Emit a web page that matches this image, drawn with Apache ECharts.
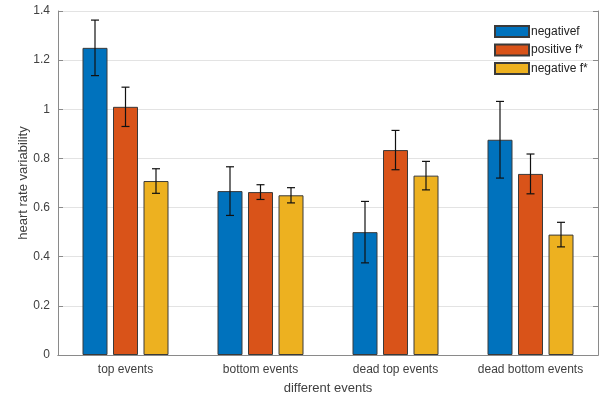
<!DOCTYPE html>
<html>
<head>
<meta charset="utf-8">
<script src="https://cdn.jsdelivr.net/npm/echarts@6/dist/echarts.min.js"></script>
<style>
  html, body { margin: 0; padding: 0; background: #fff; }
  #chart { width: 604px; height: 400px; }
</style>
</head>
<body>
<div id="chart"></div>
<script>
// Event categories along the x axis
const categories = ['top events', 'bottom events', 'dead top events', 'dead bottom events'];

// Series names (legend entries)
const seriesNames = ['negativef', 'positive f*', 'negative f*'];

// Mean heart rate variability per category
const negativeF = [1.25, 0.667, 0.50, 0.876];
const positiveFStar = [1.01, 0.663, 0.834, 0.737];
const negativeFStar = [0.708, 0.650, 0.730, 0.490];

// Error bar half-lengths per category
const negativeFErr = [0.113, 0.099, 0.125, 0.156];
const positiveFStarErr = [0.080, 0.030, 0.080, 0.081];
const negativeFStarErr = [0.050, 0.031, 0.058, 0.050];

const means = [negativeF, positiveFStar, negativeFStar];
const errs = [negativeFErr, positiveFStarErr, negativeFStarErr];
const colors = ['#0072BD', '#D95319', '#EDB120'];

const BAR_W = 25;
const BAR_GAP = 0.22;
const FONT = '"Liberation Sans", Arial, sans-serif';
const AXIS_COLOR = '#8a8a8a';
const TEXT_COLOR = '#404040';

const chart = echarts.init(document.getElementById('chart'), null, { renderer: 'canvas' });

const barSeries = means.map((vals, i) => ({
  name: seriesNames[i],
  type: 'bar',
  xAxisIndex: 0,
  yAxisIndex: 0,
  data: vals,
  barWidth: BAR_W,
  barGap: (BAR_GAP * 100) + '%',
  itemStyle: { color: colors[i], borderColor: '#3a3a3a', borderWidth: 1 },
  emphasis: { disabled: true },
  z: 2
}));

const errSeries = means.map((vals, i) => ({
  name: seriesNames[i] + ' error',
  type: 'custom',
  xAxisIndex: 0,
  yAxisIndex: 0,
  data: vals.map((v, k) => [k, v - errs[i][k], v + errs[i][k]]),
  encode: { x: 0, y: [1, 2] },
  z: 5,
  silent: true,
  renderItem: function (params, api) {
    const k = api.value(0);
    const lo = api.coord([k, api.value(1)]);
    const hi = api.coord([k, api.value(2)]);
    const offset = (i - 1) * BAR_W * (1 + BAR_GAP);
    const x = lo[0] + offset;
    const cap = 4;
    const style = { stroke: '#111', lineWidth: 1.2 };
    return {
      type: 'group',
      children: [
        { type: 'line', shape: { x1: x, y1: lo[1], x2: x, y2: hi[1] }, style: style },
        { type: 'line', shape: { x1: x - cap, y1: lo[1], x2: x + cap, y2: lo[1] }, style: style },
        { type: 'line', shape: { x1: x - cap, y1: hi[1], x2: x + cap, y2: hi[1] }, style: style }
      ]
    };
  }
}));

const option = {
  animation: false,
  backgroundColor: '#fff',
  textStyle: { fontFamily: FONT },
  grid: { left: 58, right: 6, top: 11, bottom: 45, show: false },
  legend: {
    data: seriesNames.map(n => ({ name: n, icon: 'rect' })),
    orient: 'vertical',
    left: 494,
    top: 25,
    itemWidth: 34,
    itemHeight: 11,
    itemGap: 5.5,
    padding: 0,
    selectedMode: false,
    textStyle: { fontFamily: FONT, fontSize: 12, color: '#222', padding: [0, 0, 0, -3] }
  },
  xAxis: [
    {
      type: 'category',
      data: categories,
      position: 'bottom',
      axisLine: { lineStyle: { color: AXIS_COLOR } },
      axisTick: { inside: true, length: 5, alignWithLabel: true, lineStyle: { color: AXIS_COLOR } },
      axisLabel: { fontFamily: FONT, fontSize: 12, color: TEXT_COLOR, margin: 9, interval: 0 },
      name: 'different events',
      nameLocation: 'middle',
      nameGap: 27,
      nameMoveOverlap: false,
      nameTextStyle: { fontFamily: FONT, fontSize: 13, color: TEXT_COLOR },
      splitLine: { show: false }
    },
    {
      type: 'category',
      data: categories,
      position: 'top',
      axisLine: { lineStyle: { color: AXIS_COLOR } },
      axisTick: { inside: true, length: 5, alignWithLabel: true, lineStyle: { color: AXIS_COLOR } },
      axisLabel: { show: false }
    }
  ],
  yAxis: [
    {
      type: 'value',
      min: 0,
      max: 1.4,
      interval: 0.2,
      position: 'left',
      axisLine: { show: true, lineStyle: { color: AXIS_COLOR } },
      axisTick: { show: true, inside: true, length: 5, lineStyle: { color: AXIS_COLOR } },
      axisLabel: { fontFamily: FONT, fontSize: 12, color: TEXT_COLOR, margin: 8 },
      splitLine: { show: true, lineStyle: { color: '#e3e3e3', width: 1 } },
      name: 'heart rate variability',
      nameLocation: 'middle',
      nameRotate: 90,
      nameGap: 28,
      nameMoveOverlap: false,
      nameTextStyle: { fontFamily: FONT, fontSize: 13, color: TEXT_COLOR }
    },
    {
      type: 'value',
      min: 0,
      max: 1.4,
      interval: 0.2,
      position: 'right',
      axisLine: { show: true, lineStyle: { color: AXIS_COLOR } },
      axisTick: { show: true, inside: true, length: 5, lineStyle: { color: AXIS_COLOR } },
      axisLabel: { show: false },
      splitLine: { show: false }
    }
  ],
  series: barSeries.concat(errSeries)
};

chart.setOption(option);
</script>
</body>
</html>
